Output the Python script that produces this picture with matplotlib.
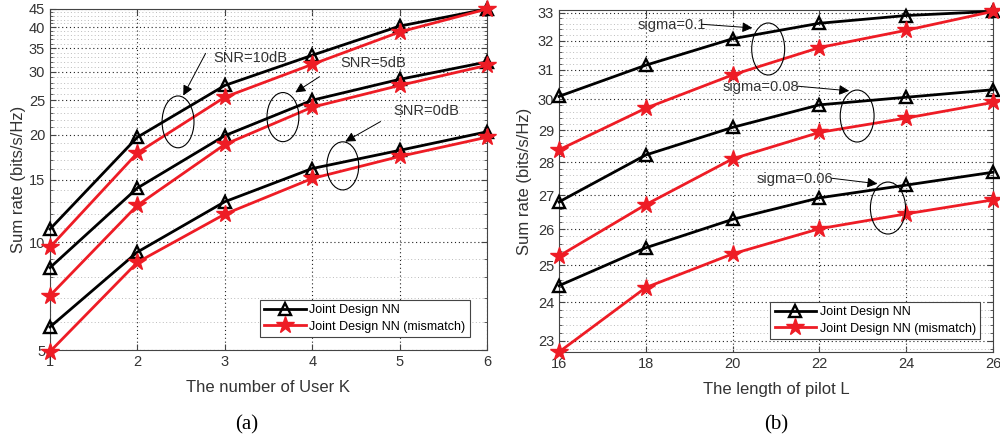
import numpy as np
import matplotlib.pyplot as plt
from matplotlib.patches import Ellipse
from matplotlib.ticker import FixedLocator, NullFormatter

plt.rcParams['font.family'] = ['Liberation Sans', 'DejaVu Sans']

# (a) sum rate vs number of users
users = [1, 2, 3, 4, 5, 6]
snr10_nn = [10.9, 19.7, 27.5, 33.4, 40.3, 45.0]
snr10_mis = [9.7, 17.8, 25.5, 31.5, 38.8, 45.0]
snr5_nn = [8.5, 14.2, 19.9, 25.0, 28.6, 32.0]
snr5_mis = [7.1, 12.7, 18.8, 23.9, 27.5, 31.3]
snr0_nn = [5.8, 9.4, 13.0, 16.1, 18.1, 20.4]
snr0_mis = [4.95, 8.8, 12.0, 15.1, 17.4, 19.7]
yticks_a = [5, 10, 15, 20, 25, 30, 35, 40, 45]

# (b) sum rate vs pilot length
pilot = [16, 18, 20, 22, 24, 26]
s010_nn = [30.1, 31.15, 32.07, 32.62, 32.9, 33.05]
s010_mis = [28.38, 29.71, 30.82, 31.76, 32.37, 33.05]
s008_nn = [26.8, 28.22, 29.09, 29.82, 30.07, 30.32]
s008_mis = [25.25, 26.72, 28.1, 28.93, 29.39, 29.9]
s006_nn = [24.44, 25.48, 26.29, 26.92, 27.3, 27.69]
s006_mis = [22.72, 24.39, 25.31, 26.02, 26.45, 26.86]
yticks_b = [23, 24, 25, 26, 27, 28, 29, 30, 31, 32, 33]

txt = '#333333'
nn_style = dict(color='black', lw=2, marker='^', ms=8.5, mfc='none', mec='black', mew=1.7)
mis_style = dict(color='#ee1c25', lw=2, marker='*', ms=13, mfc='#ee1c25', mec='#ee1c25')

fig = plt.figure(figsize=(10, 4.41), dpi=100)
ax1 = fig.add_axes([0.05, 0.2063, 0.437, 0.7733])
ax2 = fig.add_axes([0.559, 0.2018, 0.434, 0.7755])


def style_axis(ax, yt, minor):
    ax.set_yscale('log')
    ax.yaxis.set_major_locator(FixedLocator(yt))
    ax.yaxis.set_minor_locator(FixedLocator(minor))
    ax.yaxis.set_minor_formatter(NullFormatter())
    ax.set_yticklabels([str(v) for v in yt])
    ax.grid(True, which='major', ls=(0, (1, 2.5)), color='#222222', lw=0.8)
    ax.grid(True, which='minor', axis='y', ls=(0, (1, 2.5)), color='#bbbbbb', lw=0.7)
    ax.tick_params(which='both', direction='in', top=True, right=True, labelsize=10.5,
                   colors='#444444', labelcolor=txt)
    ax.tick_params(which='major', length=4)
    ax.tick_params(which='minor', length=2)
    for s in ax.spines.values():
        s.set_color('#444444')
        s.set_linewidth(0.8)


def add_legend(ax, anchor):
    h1, = ax.plot([], [], **nn_style)
    h2, = ax.plot([], [], **mis_style)
    leg = ax.legend([h1, h2], ['Joint Design NN', 'Joint Design NN (mismatch)'],
                    loc='lower right', bbox_to_anchor=anchor, fontsize=9,
                    fancybox=False, framealpha=1, edgecolor='#444444',
                    handlelength=3.3, borderpad=0.35, labelspacing=0.35, handletextpad=0.3)
    leg.get_frame().set_linewidth(0.8)


# ---- panel (a)
for nn, mis in [(snr10_nn, snr10_mis), (snr5_nn, snr5_mis), (snr0_nn, snr0_mis)]:
    ax1.plot(users, nn, **nn_style, clip_on=False, zorder=3)
    ax1.plot(users, mis, **mis_style, clip_on=False, zorder=3)
style_axis(ax1, yticks_a, list(range(5, 46)))
ax1.set_xlim(1, 6)
ax1.set_ylim(5, 45)
ax1.set_xticks(users)
ax1.set_xlabel('The number of User K', fontsize=12, color=txt, labelpad=8)
ax1.set_ylabel('Sum rate (bits/s/Hz)', fontsize=12, color=txt, labelpad=2)
add_legend(ax1, (0.975, 0.02))

ann_a = [('SNR=10dB', (0.373, 0.856), (0.359, 0.877), (0.302, 0.739), (0.293, 0.669), 0.152),
         ('SNR=5dB', (0.664, 0.842), (0.622, 0.806), (0.556, 0.751), (0.533, 0.683), 0.144),
         ('SNR=0dB', (0.785, 0.701), (0.762, 0.674), (0.670, 0.607), (0.670, 0.540), 0.141)]
for label, tpos, a0, a1, ec, eh in ann_a:
    ax1.text(*tpos, label, transform=ax1.transAxes, fontsize=10.5, color=txt, va='center')
    ax1.annotate('', xy=a1, xytext=a0, xycoords='axes fraction',
                 arrowprops=dict(arrowstyle='-|>', color='black', lw=0.7, mutation_scale=15))
    ax1.add_patch(Ellipse(ec, 0.073, eh, transform=ax1.transAxes, fill=False,
                          ec='black', lw=0.8, zorder=4))

# ---- panel (b)
for nn, mis in [(s010_nn, s010_mis), (s008_nn, s008_mis), (s006_nn, s006_mis)]:
    ax2.plot(pilot, nn, **nn_style, clip_on=False, zorder=3)
    ax2.plot(pilot, mis, **mis_style, clip_on=False, zorder=3)
style_axis(ax2, yticks_b, list(np.round(np.arange(22.8, 33.1, 0.2), 1)))
ax2.set_xlim(16, 26)
ax2.set_ylim(22.72, 33.1)
ax2.set_xticks(pilot)
ax2.set_xlabel('The length of pilot L', fontsize=12, color=txt, labelpad=8)
ax2.set_ylabel('Sum rate (bits/s/Hz)', fontsize=12, color=txt, labelpad=4)
add_legend(ax2, (0.985, 0.02))

ann_b = [('sigma=0.1', (0.180, 0.956), (0.322, 0.959), (0.452, 0.947), (0.482, 0.886), 0.076),
         ('sigma=0.08', (0.376, 0.775), (0.543, 0.778), (0.675, 0.763), (0.687, 0.690), 0.078),
         ('sigma=0.06', (0.456, 0.506), (0.622, 0.509), (0.740, 0.491), (0.758, 0.421), 0.081)]
for label, tpos, a0, a1, ec, ew in ann_b:
    ax2.text(*tpos, label, transform=ax2.transAxes, fontsize=10.5, color=txt, va='center')
    ax2.annotate('', xy=a1, xytext=a0, xycoords='axes fraction',
                 arrowprops=dict(arrowstyle='-|>', color='black', lw=0.7, mutation_scale=15))
    ax2.add_patch(Ellipse(ec, ew, 0.152, transform=ax2.transAxes, fill=False,
                          ec='black', lw=0.8, zorder=4))

fig.text(0.247, 0.036, '(a)', family='Liberation Serif', fontsize=15, ha='center', va='center')
fig.text(0.776, 0.036, '(b)', family='Liberation Serif', fontsize=15, ha='center', va='center')

fig.savefig('out.png', dpi=100)
